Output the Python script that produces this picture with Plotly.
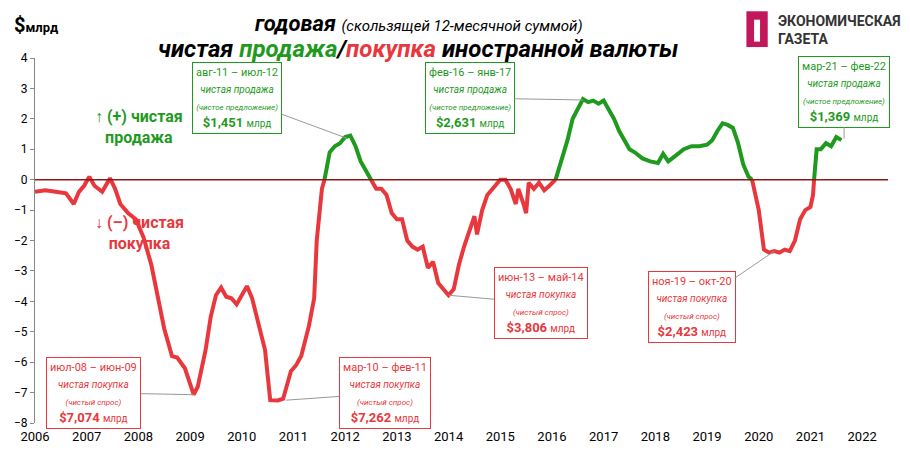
import plotly.graph_objects as go

# (decimal year, $ bn, rolling 12-month sum)
years = [2006.0, 2006.2, 2006.4, 2006.6, 2006.75, 2006.85, 2006.95, 2007.05, 2007.15, 2007.3,
         2007.45, 2007.55, 2007.65, 2007.8, 2007.95, 2008.1, 2008.25, 2008.4, 2008.5, 2008.65,
         2008.75, 2008.9, 2009.0, 2009.07, 2009.15, 2009.3, 2009.4, 2009.5, 2009.6, 2009.7,
         2009.8, 2009.9, 2010.0, 2010.1, 2010.2, 2010.3, 2010.4, 2010.45, 2010.55, 2010.7,
         2010.8, 2010.95, 2011.05, 2011.15, 2011.3, 2011.4, 2011.45, 2011.55, 2011.6, 2011.7,
         2011.8, 2011.9, 2012.0, 2012.1, 2012.2, 2012.3, 2012.4, 2012.5, 2012.6, 2012.7,
         2012.8, 2012.9, 2013.0, 2013.1, 2013.2, 2013.3, 2013.4, 2013.5, 2013.6, 2013.7,
         2013.8, 2013.9, 2014.0, 2014.1, 2014.2, 2014.3, 2014.4, 2014.5, 2014.55, 2014.65,
         2014.75, 2014.85, 2015.0, 2015.1, 2015.2, 2015.3, 2015.35, 2015.45, 2015.5, 2015.55,
         2015.65, 2015.75, 2015.85, 2015.95, 2016.07, 2016.2, 2016.3, 2016.4, 2016.5, 2016.6,
         2016.7, 2016.8, 2016.9, 2017.0, 2017.1, 2017.2, 2017.3, 2017.4, 2017.5, 2017.6,
         2017.75, 2017.9, 2018.05, 2018.15, 2018.25, 2018.4, 2018.55, 2018.7, 2018.85, 2019.0,
         2019.1, 2019.2, 2019.3, 2019.4, 2019.5, 2019.6, 2019.7, 2019.8, 2019.87, 2020.0,
         2020.1, 2020.2, 2020.3, 2020.4, 2020.5, 2020.6, 2020.7, 2020.8, 2020.9, 2021.0,
         2021.05, 2021.07, 2021.12, 2021.2, 2021.3, 2021.4, 2021.5, 2021.6]
values = [-0.4, -0.35, -0.4, -0.45, -0.8, -0.4, -0.2, 0.1, -0.2, -0.4,
          0.05, -0.3, -0.8, -1.1, -1.3, -1.9, -2.8, -4.0, -4.9, -5.8,
          -5.85, -6.2, -6.7, -7.07, -6.8, -5.6, -4.5, -3.8, -3.55, -3.85,
          -3.9, -4.1, -3.8, -3.5, -3.9, -4.6, -5.3, -5.6, -7.25, -7.26,
          -7.2, -6.3, -6.1, -5.8, -4.8, -3.9, -2.0, -0.3, 0.0, 0.9,
          1.1, 1.2, 1.4, 1.45, 1.1, 0.6, 0.3, 0.0, -0.3, -0.3,
          -0.5, -1.1, -1.3, -1.3, -2.0, -2.2, -2.3, -2.2, -2.9, -2.7,
          -3.4, -3.6, -3.8, -3.6, -2.8, -2.2, -1.7, -1.2, -1.8, -1.0,
          -0.5, -0.3, 0.0, 0.0, -0.3, -0.8, -0.3, -0.8, -1.1, -0.1,
          -0.3, -0.1, -0.35, -0.2, 0.0, 0.7, 1.3, 2.0, 2.3, 2.65,
          2.55, 2.6, 2.5, 2.6, 2.3, 2.0, 1.6, 1.3, 1.0, 0.9,
          0.7, 0.6, 0.55, 0.85, 0.6, 0.8, 1.0, 1.1, 1.1, 1.15,
          1.3, 1.6, 1.85, 1.8, 1.7, 1.2, 0.5, 0.1, 0.0, -1.0,
          -2.3, -2.4, -2.35, -2.4, -2.3, -2.35, -2.0, -1.3, -1.0, -0.9,
          -0.5, 0.0, 1.0, 1.0, 1.2, 1.1, 1.4, 1.3]

# periods of net sale (green)
sale_periods = [(2011.6, 2012.5), (2016.07, 2019.87), (2021.07, 2022.0)]

GREEN = "#1f9a1f"
RED = "#e8383d"
FONT = "Liberation Sans Narrow, Arial Narrow, Roboto, sans-serif"


def in_sale(y):
    return any(a <= y <= b for a, b in sale_periods)


green_y = [v if in_sale(y) else None for y, v in zip(years, values)]
red_y = [v if (not in_sale(y) or any(y in p for p in sale_periods)) else None
         for y, v in zip(years, values)]

fig = go.Figure()
fig.add_trace(go.Scatter(x=years, y=red_y, mode="lines", line=dict(color=RED, width=4),
                         connectgaps=False, hoverinfo="skip"))
fig.add_trace(go.Scatter(x=years, y=green_y, mode="lines", line=dict(color=GREEN, width=4),
                         connectgaps=False, hoverinfo="skip"))

fig.add_hline(y=0, line=dict(color="#8b1a1a", width=1.5))

# callouts: (x, y, ax, ay, color, lines...)
callouts = [
    (2012.05, 1.35, -111, -41, GREEN, "авг-11 – июл-12", "чистая продажа", "(чистое предложение)", "$1,451"),
    (2016.6, 2.62, -113, -2, GREEN, "фев-16 – янв-17", "чистая продажа", "(чистое предложение)", "$2,631"),
    (2021.65, 1.35, 0, -47, GREEN, "мар-21 – фев-22", "чистая продажа", "(чистое предложение)", "$1,369"),
    (2009.07, -7.07, -100, -2, RED, "июл-08 – июн-09", "чистая покупка", "(чистый спрос)", "$7,074"),
    (2010.85, -7.25, 99, -7, RED, "мар-10 – фев-11", "чистая покупка", "(чистый спрос)", "$7,262"),
    (2014.0, -3.8, 92, 8, RED, "июн-13 – май-14", "чистая покупка", "(чистый спрос)", "$3,806"),
    (2020.3, -2.35, -82, 56, RED, "ноя-19 – окт-20", "чистая покупка", "(чистый спрос)", "$2,423"),
]
for x, y, ax, ay, c, l1, l2, l3, l4 in callouts:
    fig.add_annotation(
        x=x, y=y, ax=ax, ay=ay, showarrow=True, arrowhead=0, arrowwidth=1,
        arrowcolor="#999999", standoff=0,
        text=(f"<span style='font-size:11px'>{l1}</span><br>"
              f"<i style='font-size:10px'>{l2}</i><br>"
              f"<i style='font-size:8px'>{l3}</i><br>"
              f"<b>{l4}</b> <span style='font-size:10px'>млрд</span>"),
        font=dict(family=FONT, color=c, size=13), align="center",
        bgcolor="white", bordercolor=c, borderwidth=1, borderpad=3,
    )

# titles and side labels
fig.add_annotation(xref="paper", yref="paper", x=0.45, y=1.095, yanchor="middle", showarrow=False,
                   text="<b><i>годовая</i></b> <i style='font-size:15px'>(скользящей 12-месячной суммой)</i>",
                   font=dict(family=FONT, size=22, color="black"))
fig.add_annotation(xref="paper", yref="paper", x=0.45, y=1.025, yanchor="middle", showarrow=False,
                   text=(f"<b><i>чистая <span style='color:{GREEN}'>продажа</span>/"
                         f"<span style='color:{RED}'>покупка</span> иностранной валюты</i></b>"),
                   font=dict(family=FONT, size=24, color="black"))
fig.add_annotation(xref="paper", yref="paper", x=-0.027, y=1.09, xanchor="left", yanchor="middle",
                   showarrow=False, text="<b><span style='font-size:20px'>$</span>млрд</b>",
                   font=dict(family=FONT, size=13, color="black"))
fig.add_annotation(xref="paper", yref="y", x=0.068, y=1.74, showarrow=False,
                   text="<b>↑ (+) чистая<br>продажа</b>",
                   font=dict(family=FONT, size=16, color=GREEN))
fig.add_annotation(xref="paper", yref="y", x=0.068, y=-1.74, showarrow=False,
                   text="<b>↓ (–) чистая<br>покупка</b>",
                   font=dict(family=FONT, size=16, color=RED))

# logo
fig.add_shape(type="rect", xref="paper", yref="paper", x0=0.834, x1=0.859, y0=1.03, y1=1.128,
              fillcolor="#c2185b", line=dict(width=0))
fig.add_shape(type="rect", xref="paper", yref="paper", x0=0.843, x1=0.850, y0=1.045, y1=1.105,
              fillcolor="white", line=dict(width=0))
fig.add_annotation(xref="paper", yref="paper", x=0.869, y=1.078, xanchor="left", yanchor="middle",
                   showarrow=False, align="left", text="<b>ЭКОНОМИЧЕСКАЯ<br>ГАЗЕТА</b>",
                   font=dict(family="Roboto, sans-serif", size=14, color="#333333"))

fig.update_layout(
    width=910, height=451, paper_bgcolor="white", plot_bgcolor="white",
    margin=dict(l=27, r=30, t=50, b=36), showlegend=False,
    font=dict(family=FONT, size=12, color="black"),
    xaxis=dict(range=[2006, 2022.5], tickvals=list(range(2006, 2023)), ticklen=0,
               ticklabelstandoff=4,
               showgrid=False, zeroline=False, showline=False, automargin=False,
               tickfont=dict(family=FONT, size=13)),
    yaxis=dict(range=[-8, 4], dtick=1, ticks="outside", ticklen=4, tickcolor="#888",
               showgrid=False, zeroline=False, showline=True, linecolor="#888",
               automargin=False, tickfont=dict(family=FONT, size=12)),
)

fig.write_html("out.html")
